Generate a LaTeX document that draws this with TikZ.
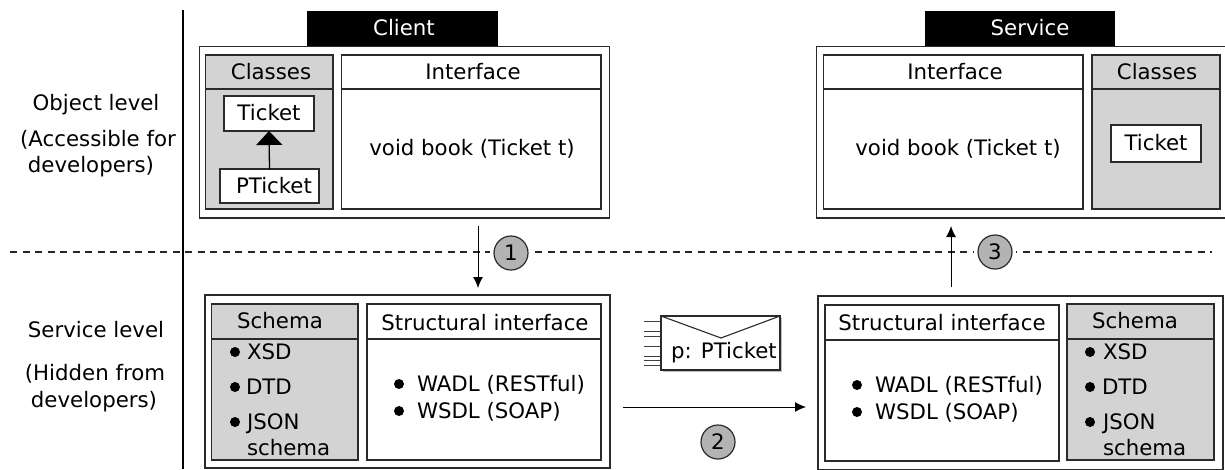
\documentclass[tikz,border=0pt]{standalone}
\usepackage{fontspec}
\setmainfont{DejaVu Sans}
\usetikzlibrary{arrows.meta}
\definecolor{panelgrey}{HTML}{D3D3D3}
\definecolor{stepgrey}{HTML}{B3B3B3}
\definecolor{linedark}{HTML}{2A2A2A}
\newcommand{\rectnode}[6]{\node[#2,minimum width={(#5)-(#3)},minimum height={(#6)-(#4)}] (#1) at ({((#3)+(#5))/2},{((#4)+(#6))/2}) {};}
\tikzset{
  x=1pt,y=-1pt,
  rectbox/.style={draw=linedark,line width=1.2pt,inner sep=0,outer sep=0,rectangle},
  whitebox/.style={rectbox,fill=white},
  greybox/.style={rectbox,fill=panelgrey},
  blackbox/.style={rectangle,fill=black,inner sep=0,outer sep=0},
  txt/.style={font=\fontsize{21.3}{24}\selectfont,text height=15.5pt,text depth=0pt,inner sep=0,outer sep=0},
  ltxt/.style={txt,anchor=west},
  bul/.style={circle,fill=black,inner sep=0,minimum size=10pt,outer sep=0},
  stepnum/.style={circle,draw=linedark,fill=stepgrey,line width=1.2pt,minimum size=34pt,inner sep=0,font=\fontsize{21.3}{24}\selectfont,text height=15.5pt,text depth=0pt},
  halo/.style={circle,fill=white,minimum size=42pt,inner sep=0},
  flow/.style={line width=1pt,-{Latex[length=11pt,width=10pt]}},
  inherit/.style={line width=1.3pt,-{Triangle[length=14pt,width=26pt]}},
  divider/.style={line width=1.2pt,linedark},
  speed/.style={line width=.8pt,black!75},
}
\begin{document}
\begin{tikzpicture}
\useasboundingbox (0,0) rectangle (1225,469);
% level guides
\coordinate (vt) at (183,10);
\coordinate (vb) at (183,469);
\draw[line width=1.3pt,black] (vt) -- (vb);
\coordinate (dl) at (10,252);
\coordinate (dr) at (1212,252);
\draw[line width=1.2pt,black!85,dash pattern=on 7pt off 5.5pt] (dl) -- (dr);
% level labels
\node[txt] (lo1) at (96,103) {Object level};
\node[txt] (lo2) at (98,139) {(Accessible for};
\node[txt] (lo3) at (91,165) {developers)};
\node[txt] (ls1) at (96,330) {Service level};
\node[txt] (ls2) at (95,373) {(Hidden from};
\node[txt] (ls3) at (94,400) {developers)};
% client, object level
\rectnode{clienthead}{blackbox}{307}{11}{498}{47}
\node[txt,text=white] (clientlabel) at (404,28) {Client};
\rectnode{clientouter}{rectbox}{199.5}{46.5}{609.5}{218}
\rectnode{cclasses}{greybox}{205.5}{55}{333}{209}
\rectnode{cinterface}{whitebox}{341.5}{55}{601}{209}
\coordinate (cc1) at (205.5,89); \coordinate (cc2) at (333,89);
\draw[divider] (cc1) -- (cc2);
\coordinate (ci1) at (341.5,89); \coordinate (ci2) at (601,89);
\draw[divider] (ci1) -- (ci2);
\node[txt] (cclasseslabel) at (271,72) {Classes};
\node[txt] (cinterfacelabel) at (473,72) {Interface};
\rectnode{cticket}{whitebox}{224}{96}{314}{131}
\rectnode{cpticket}{whitebox}{220}{169}{319}{203}
\node[txt] (cticketlabel) at (269,113) {Ticket};
\node[txt] (cpticketlabel) at (274,186) {PTicket};
\draw[inherit] (cpticket.north) -- (cticket.south);
\node[txt] (cbook) at (472,148) {void book (Ticket t)};
% service, object level
\rectnode{servicehead}{blackbox}{925}{11}{1115}{47}
\node[txt,text=white] (servicelabel) at (1030,28) {Service};
\rectnode{serviceouter}{rectbox}{816.5}{46.5}{1226}{218}
\rectnode{sinterface}{whitebox}{823.5}{55}{1083}{209}
\rectnode{sclasses}{greybox}{1092}{55}{1220}{209}
\coordinate (si1) at (823.5,89); \coordinate (si2) at (1083,89);
\draw[divider] (si1) -- (si2);
\coordinate (sc1) at (1092,89); \coordinate (sc2) at (1220,89);
\draw[divider] (sc1) -- (sc2);
\node[txt] (sinterfacelabel) at (955,72) {Interface};
\node[txt] (sclasseslabel) at (1157,72) {Classes};
\rectnode{sticket}{whitebox}{1111}{125}{1201}{162}
\node[txt] (sticketlabel) at (1156,143) {Ticket};
\node[txt] (sbook) at (958,148) {void book (Ticket t)};
% client, service level
\rectnode{lclientouter}{rectbox}{205}{295}{610}{468}
\rectnode{lcschema}{greybox}{211.5}{304}{358}{460}
\rectnode{lcstruct}{whitebox}{367}{304}{601}{460}
\coordinate (ls1a) at (211.5,339); \coordinate (ls1b) at (358,339);
\draw[divider] (ls1a) -- (ls1b);
\coordinate (ls2a) at (367,339); \coordinate (ls2b) at (601,339);
\draw[divider] (ls2a) -- (ls2b);
\node[txt] (lcschemalabel) at (280,321) {Schema};
\node[txt] (lcstructlabel) at (485,323) {Structural interface};
\node[bul] (b1) at (235,352) {}; \node[ltxt] (t1) at (247,352) {XSD};
\node[bul] (b2) at (235,387) {}; \node[ltxt] (t2) at (246,387) {DTD};
\node[bul] (b3) at (235,422) {}; \node[ltxt] (t3) at (247,422) {JSON};
\node[ltxt] (t4) at (247,448) {schema};
\node[bul] (b5) at (399,384) {}; \node[ltxt] (t5) at (417,384) {WADL (RESTful)};
\node[bul] (b6) at (399,411) {}; \node[ltxt] (t6) at (417,411) {WSDL (SOAP)};
% service, service level
\rectnode{lsouter}{rectbox}{818}{296}{1223}{470}
\rectnode{lsstruct}{whitebox}{825}{305}{1059}{461}
\rectnode{lsschema}{greybox}{1067}{304}{1214}{460}
\coordinate (ls3a) at (825,340); \coordinate (ls3b) at (1059,340);
\draw[divider] (ls3a) -- (ls3b);
\coordinate (ls4a) at (1067,339); \coordinate (ls4b) at (1214,339);
\draw[divider] (ls4a) -- (ls4b);
\node[txt] (lsstructlabel) at (942,323) {Structural interface};
\node[txt] (lsschemalabel) at (1135,321) {Schema};
\node[bul] (b7) at (857,385) {}; \node[ltxt] (t7) at (875,385) {WADL (RESTful)};
\node[bul] (b8) at (857,412) {}; \node[ltxt] (t8) at (875,412) {WSDL (SOAP)};
\node[bul] (b9) at (1090,352) {}; \node[ltxt] (t9) at (1103,352) {XSD};
\node[bul] (b10) at (1090,387) {}; \node[ltxt] (t10) at (1102,387) {DTD};
\node[bul] (b11) at (1090,422) {}; \node[ltxt] (t11) at (1103,422) {JSON};
\node[ltxt] (t12) at (1103,448) {schema};
% envelope
\coordinate (shadowa) at (663,318); \coordinate (shadowb) at (782,372);
\fill[black!25] (shadowa) rectangle (shadowb);
\rectnode{envelope}{whitebox}{661}{316}{780}{370}
\coordinate (flap) at (721,338);
\draw[line width=1.1pt,linedark] (envelope.north west) -- (flap) -- (envelope.north east);
\node[txt] (enveloplabel) at (724,351) {p: PTicket};
\foreach \yy in {321,331,336,346,356,360,365}{
  \coordinate (sa) at (644,\yy); \coordinate (sb) at (660,\yy);
  \draw[speed] (sa) -- (sb);
}
% steps
\node[halo] (h1) at (511,253) {};
\node[halo] (h3) at (995,252) {};
\coordinate (a1s) at (478,226); \coordinate (a1e) at (478,288);
\draw[flow] (a1s) -- (a1e);
\coordinate (a3s) at (951,287); \coordinate (a3e) at (951,226);
\draw[flow] (a3s) -- (a3e);
\coordinate (a2s) at (623,407); \coordinate (a2e) at (806,407);
\draw[flow] (a2s) -- (a2e);
\node[stepnum] (s1) at (511,253) {1};
\node[stepnum] (s3) at (995,252) {3};
\node[stepnum] (s2) at (718,442) {2};
\end{tikzpicture}
\end{document}
